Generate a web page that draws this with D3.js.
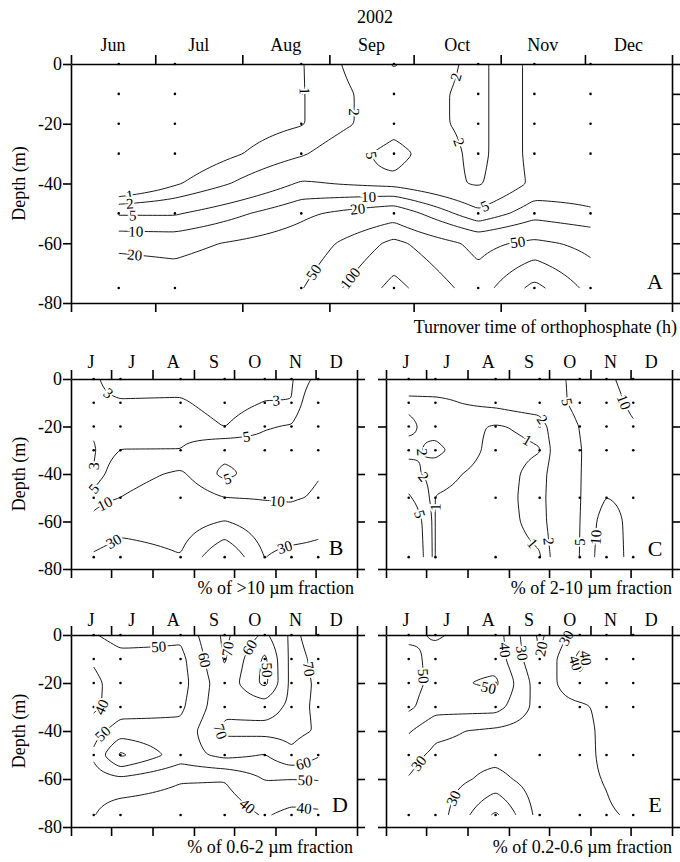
<!DOCTYPE html>
<html>
<head>
<meta charset="utf-8">
<script src="https://cdn.jsdelivr.net/npm/d3@7"></script>
<style>
  body { margin: 0; background: #fff; }
  svg { display: block; }
  text { font-family: "Liberation Serif", "Times New Roman", serif; fill: #000; }
</style>
</head>
<body>
<svg id="chart" width="680" height="862"></svg>
<script>
// sampling dates and depths shared by all panels
const stations = ["2002-06-18", "2002-07-08", "2002-08-22", "2002-09-24", "2002-10-24", "2002-11-13", "2002-12-03"];
const gridDepths = [0, -10, -20, -30, -40, -50, -60, -75];
const sampleDepths = [0, -10, -20, -30, -50, -75];
const monthNames = ["Jun", "Jul", "Aug", "Sep", "Oct", "Nov", "Dec"];
const monthLetters = ["J", "J", "A", "S", "O", "N", "D"];
const depthTicks = [0, -20, -40, -60, -80];
const depthTicks10 = [0, -10, -20, -30, -40, -50, -60, -70, -80];

// values per station, top to bottom (gridDepths)
// A: turnover time of orthophosphate (h)
const turnover = [
  [0.5, 0.5, 0.5, 0.6, 0.3, 4.6, 17, 35],
  [0.5, 0.5, 0.5, 0.5, 0.9, 4.6, 16, 30],
  [0.95, 0.95, 0.95, 1.8, 5.5, 17, 30, 48],
  [5.3, 3.5, 3.5, 7, 4, 35, 120, 250],
  [1.5, 1.5, 1.5, 1.5, 1.8, 6, 40, 70],
  [6.9, 6.9, 6.9, 6.9, 6, 15, 60, 250],
  [7, 7, 7, 7, 7, 11, 40, 80]
];
// B: % of >10 um fraction
const frac10 = [
  [3.3, 3.4, 3.3, 2.8, 3.1, 6.2, 13, 33],
  [2, 3.2, 4, 5.05, 7.5, 10.05, 22, 40],
  [2, 3.3, 4.3, 5.05, 11, 14, 20, 31],
  [1.5, 2, 2.95, 7, 3.5, 10.05, 31, 70],
  [2, 3.1, 4.8, 6, 8, 9, 18, 29.5],
  [2.8, 3.05, 5.2, 6, 7, 9, 14, 38],
  [5.8, 8, 8.5, 9, 9.6, 11, 22, 38]
];
// C: % of 2-10 um fraction
const frac2to10 = [
  [2.5, 1.8, 2.2, 1.7, 2.5, 5.5, 9, 10],
  [2.6, 1.8, 1.6, 2.3, 1.4, 0.95, 0.9, 0.9],
  [2.2, 2.3, 0.9, 0.6, 0.5, 0.5, 0.5, 0.5],
  [3.5, 2.8, 1.3, 0.95, 1.4, 1.5, 1.4, 0.9],
  [5.8, 6.0, 5.1, 4.8, 4.8, 4.8, 4.9, 5.05],
  [9, 8, 7.5, 7.5, 8.5, 10.05, 13, 14],
  [12, 11, 9.5, 8.5, 8.5, 8.5, 8, 7.8]
];
// D: % of 0.6-2 um fraction
const frac06to2 = [
  [49, 41, 38, 38, 46, 52, 45, 40.5],
  [55, 46, 44, 45, 55, 72, 48, 33],
  [52, 47, 46, 48, 53, 55, 41, 33],
  [72, 71, 67, 68, 72, 63, 40.5, 34],
  [58, 48, 47, 66, 73, 59.5, 50.5, 41],
  [72, 73, 73, 72, 73, 68, 50.2, 37],
  [66, 68, 69, 69, 69, 61, 50.5, 38]
];
// E: % of 0.2-0.6 um fraction
const frac02to06 = [
  [48, 53, 54, 52, 41, 33, 29.5, 28],
  [51, 47, 47, 44, 32, 28, 25, 24],
  [45, 46, 52, 44, 28, 27, 33, 52],
  [18, 20.2, 24, 26, 25, 24, 25, 26],
  [35, 43, 38, 28, 26, 27, 28, 28],
  [38, 30.5, 32, 33, 33, 32, 30.5, 29],
  [36, 35, 35, 35, 35, 35, 35, 31]
];

const levelsA = [1, 2, 5, 10, 20, 50, 100, 200];
const levelsB = [3, 5, 10, 30, 50];
const levelsC = [1, 2, 5, 10];
const levelsD = [40, 50, 60, 70];
const levelsE = [20, 30, 40, 50];

// contour labels: [date, depth, level] – snapped onto the nearest line of that level
const labelsA = [
  ["2002-08-23", -9, 1], ["2002-09-04", -16, 2], ["2002-10-11", -3, 2], ["2002-10-21", -25, 2],
  ["2002-09-12", -32, 5], ["2002-09-15", -44, 10], ["2002-09-11", -46.5, 20], ["2002-10-27", -49, 5],
  ["2002-11-07", -59, 50], ["2002-08-26", -69.5, 50], ["2002-09-05", -69, 100],
  ["2002-06-22", -44.8, 1], ["2002-06-22", -47.7, 2], ["2002-06-23", -51, 5], ["2002-06-24", -55.5, 10], ["2002-06-24", -62.2, 20]
];
const labelsB = [
  ["2002-06-30", -5.3, 3], ["2002-11-02", -9.1, 3], ["2002-10-11", -27, 5], ["2002-09-28", -46, 5],
  ["2002-06-24", -44, 3], ["2002-06-20", -48, 5], ["2002-06-27", -53, 10], ["2002-11-02", -53, 10],
  ["2002-07-02", -67.8, 30], ["2002-11-08", -70.6, 30]
];
const labelsC = [
  ["2002-09-22", -18.5, 2], ["2002-09-16", -24.3, 1], ["2002-06-30", -30.6, 2], ["2002-06-25", -43, 2],
  ["2002-07-04", -53.8, 1], ["2002-06-21", -58, 5], ["2002-09-20", -68.5, 1], ["2002-09-30", -68.5, 2],
  ["2002-10-23", -68.5, 5], ["2002-11-06", -66.4, 10], ["2002-10-14", -9.5, 5], ["2002-11-25", -10, 10]
];
const labelsD = [
  ["2002-08-06", -6.3, 50], ["2002-09-05", -11, 60], ["2002-10-04", -6.3, 70], ["2002-10-13", -5.4, 60],
  ["2002-10-29", -14.6, 50], ["2002-11-29", -13.9, 70], ["2002-06-25", -30, 40], ["2002-06-25", -41, 50],
  ["2002-09-20", -40.4, 70], ["2002-11-23", -55.6, 60], ["2002-11-23", -61.9, 50], ["2002-11-23", -67.5, 40],
  ["2002-10-15", -68.9, 40]
];
const labelsE = [
  ["2002-07-08", -16.7, 50], ["2002-08-27", -6.3, 40], ["2002-09-08", -7.5, 30], ["2002-09-29", -6.3, 20],
  ["2002-10-16", -12.5, 40], ["2002-11-02", -7.5, 30], ["2002-11-07", -7.5, 40], ["2002-08-15", -25.8, 50],
  ["2002-06-25", -53.4, 30], ["2002-07-26", -69, 30]
];

const panels = [
  { letter: "A", values: turnover, levels: levelsA, labels: labelsA, log: true, x0: 71, x1: 672, y0: 64, y1: 303,
    months: monthNames, monthY: 51, rightTicks: depthTicks10, yLabels: true,
    caption: "Turnover time of orthophosphate (h)", capX: 677, capY: 333, letterX: 655, letterY: 289 },
  { letter: "B", values: frac10, levels: levelsB, labels: labelsB, x0: 71, x1: 357, y0: 379, y1: 569,
    months: monthLetters, monthY: 368, rightTicks: depthTicks, yLabels: true,
    caption: "% of >10 \u00b5m fraction", capX: 354, capY: 594, letterX: 336, letterY: 555 },
  { letter: "C", values: frac2to10, levels: levelsC, labels: labelsC, x0: 386, x1: 672, y0: 379, y1: 569,
    months: monthLetters, monthY: 368, rightTicks: depthTicks, yLabels: false,
    caption: "% of 2-10 \u00b5m fraction", capX: 672, capY: 594, letterX: 655, letterY: 556 },
  { letter: "D", values: frac06to2, levels: levelsD, labels: labelsD, x0: 71, x1: 357, y0: 635, y1: 827,
    months: monthLetters, monthY: 626, rightTicks: depthTicks, yLabels: true,
    caption: "% of 0.6-2 \u00b5m fraction", capX: 353, capY: 853, letterX: 340, letterY: 812 },
  { letter: "E", values: frac02to06, levels: levelsE, labels: labelsE, x0: 386, x1: 672, y0: 635, y1: 827,
    months: monthLetters, monthY: 626, rightTicks: depthTicks, yLabels: false,
    caption: "% of 0.2-0.6 \u00b5m fraction", capX: 672, capY: 853, letterX: 655, letterY: 812 }
];

const svg = d3.select("#chart");
svg.append("rect").attr("width", 680).attr("height", 862).attr("fill", "#fff");

const parse = d3.utcParse("%Y-%m-%d");
const tStart = parse("2002-06-01"), tEnd = parse("2003-01-01");
const monthStarts = d3.utcMonth.range(tStart, d3.utcDay.offset(tEnd, 1));
const stationDates = stations.map(parse);

svg.append("text").attr("x", 375).attr("y", 23).attr("text-anchor", "middle")
  .attr("font-size", 18).text("2002");

// marching squares: isolines of level t as open or closed polylines (grid coordinates)
function isolines(vals, nx, ny, t) {
  const pos = new Map(), adj = new Map();
  const V = (i, j) => vals[j * nx + i];
  const pt = (key, px, py) => { if (!pos.has(key)) pos.set(key, [px, py]); return key; };
  const hEdge = (i, j) => { const a = V(i, j), b = V(i + 1, j); return pt(`h${i},${j}`, i + (t - a) / (b - a), j); };
  const vEdge = (i, j) => { const a = V(i, j), b = V(i, j + 1); return pt(`v${i},${j}`, i, j + (t - a) / (b - a)); };
  const link = (a, b) => {
    if (!adj.has(a)) adj.set(a, []);
    if (!adj.has(b)) adj.set(b, []);
    adj.get(a).push(b); adj.get(b).push(a);
  };
  for (let j = 0; j < ny - 1; j++) for (let i = 0; i < nx - 1; i++) {
    const a0 = V(i, j) >= t, a1 = V(i + 1, j) >= t, a2 = V(i + 1, j + 1) >= t, a3 = V(i, j + 1) >= t;
    const c = a0 | a1 << 1 | a2 << 2 | a3 << 3;
    if (c === 0 || c === 15) continue;
    const T = () => hEdge(i, j), R = () => vEdge(i + 1, j), B = () => hEdge(i, j + 1), L = () => vEdge(i, j);
    if (c === 5 || c === 10) {
      const mid = (V(i, j) + V(i + 1, j) + V(i + 1, j + 1) + V(i, j + 1)) / 4 >= t;
      if ((c === 5) === mid) { link(T(), R()); link(L(), B()); }
      else { link(L(), T()); link(R(), B()); }
      continue;
    }
    const e = [];
    if (a0 !== a1) e.push(T());
    if (a1 !== a2) e.push(R());
    if (a3 !== a2) e.push(B());
    if (a0 !== a3) e.push(L());
    link(e[0], e[1]);
  }
  const seen = new Set(), lines = [];
  const walk = start => {
    const out = [start];
    seen.add(start);
    let prev = null, cur = start;
    for (;;) {
      const nb = adj.get(cur).filter(k => k !== prev && !seen.has(k));
      if (!nb.length) break;
      prev = cur; cur = nb[0]; seen.add(cur); out.push(cur);
    }
    return out;
  };
  adj.forEach((nb, k) => { if (nb.length === 1 && !seen.has(k)) lines.push({ keys: walk(k), closed: false }); });
  adj.forEach((nb, k) => { if (!seen.has(k)) lines.push({ keys: walk(k), closed: true }); });
  return lines.map(l => ({ pts: l.keys.map(k => pos.get(k)), closed: l.closed }));
}

function drawPanel(p) {
  const x = d3.scaleUtc().domain([tStart, tEnd]).range([p.x0, p.x1]);
  const y = d3.scaleLinear().domain([0, -80]).range([p.y0, p.y1]);
  const g = svg.append("g");
  const f = p.log ? Math.log10 : v => v;

  // fine grid over the sampled area (first to last station, 0 to -75 m)
  const tx = stationDates.map(d => x(d));
  const gTop = y(gridDepths[0]), gBot = y(gridDepths[gridDepths.length - 1]);
  const gLeft = tx[0], gRight = tx[tx.length - 1];
  const nx = Math.round(gRight - gLeft) + 1, ny = Math.round(gBot - gTop) + 1;
  const dx = (gRight - gLeft) / (nx - 1), dy = (gBot - gTop) / (ny - 1);
  const cols = p.values.map(c => c.map(v => f(v)));
  const vals = new Float64Array(nx * ny);
  for (let j = 0; j < ny; j++) {
    const depth = y.invert(gTop + j * dy);
    let r = 0;
    while (r < gridDepths.length - 2 && depth < gridDepths[r + 1]) r++;
    const fy = (gridDepths[r] - depth) / (gridDepths[r] - gridDepths[r + 1]);
    for (let i = 0; i < nx; i++) {
      const px = gLeft + i * dx;
      let k = 0;
      while (k < tx.length - 2 && px > tx[k + 1]) k++;
      const fx = (px - tx[k]) / (tx[k + 1] - tx[k]);
      const a = cols[k][r], b = cols[k + 1][r], c = cols[k][r + 1], d = cols[k + 1][r + 1];
      vals[j * nx + i] = (a * (1 - fx) + b * fx) * (1 - fy) + (c * (1 - fx) + d * fx) * fy;
    }
  }

  const linesByLevel = new Map();
  p.levels.forEach(level => {
    const lines = isolines(vals, nx, ny, f(level));
    lines.forEach(l => { l.pts = l.pts.map(([gx, gy]) => [gLeft + gx * dx, gTop + gy * dy]); });
    linesByLevel.set(level, lines);
  });

  // thin the dense polylines and round the corners with a B-spline
  const openLine = d3.line().curve(d3.curveBasis);
  const closedLine = d3.line().curve(d3.curveBasisClosed);
  const thin = pts => pts.filter((q, i) => i % 5 === 0 || i === pts.length - 1);
  const cg = g.append("g").attr("fill", "none").attr("stroke", "#000").attr("stroke-width", 0.9);
  linesByLevel.forEach(lines => lines.forEach(l => {
    if (l.pts.length < 2) return;
    if (l.closed) {
      const q = l.pts.filter((r, i) => i % 5 === 0);
      cg.append("path").attr("d", q.length > 2 ? closedLine(q) : closedLine(l.pts));
    } else {
      cg.append("path").attr("d", openLine(thin(l.pts)));
    }
  }));

  // sampling points
  g.append("g").selectAll("circle")
    .data(d3.cross(stationDates, sampleDepths))
    .join("circle")
    .attr("cx", d => x(d[0])).attr("cy", d => y(d[1])).attr("r", 1.3).attr("fill", "#000");

  // contour labels, snapped to the nearest point of their level
  const lg = g.append("g");
  p.labels.forEach(([date, depth, level]) => {
    const px = x(parse(date)), py = y(depth);
    let best = null, bd = Infinity;
    (linesByLevel.get(level) || []).forEach(l => l.pts.forEach((pt, i) => {
      const dd = (pt[0] - px) ** 2 + (pt[1] - py) ** 2;
      if (dd < bd) { bd = dd; best = { l, i }; }
    }));
    if (!best || bd > 30 * 30) return;
    const pts = best.l.pts, n = pts.length;
    const a = best.l.closed ? pts[(best.i - 4 + n) % n] : pts[Math.max(0, best.i - 4)];
    const b = best.l.closed ? pts[(best.i + 4) % n] : pts[Math.min(n - 1, best.i + 4)];
    let ang = Math.atan2(b[1] - a[1], b[0] - a[0]) * 180 / Math.PI;
    if (ang > 90) ang -= 180;
    if (ang < -90) ang += 180;
    const c = pts[best.i];
    lg.append("text")
      .attr("transform", `translate(${c[0]},${c[1]}) rotate(${ang})`)
      .attr("text-anchor", "middle").attr("dy", "0.35em")
      .attr("font-size", 15)
      .attr("stroke", "#fff").attr("stroke-width", 4).attr("paint-order", "stroke")
      .text(level);
  });

  // axes
  const styleAxis = sel => {
    sel.selectAll("path, line").attr("stroke", "#000").attr("stroke-width", 1.6);
    sel.attr("font-family", null).attr("font-size", null);
    sel.selectAll("text").attr("font-size", 18);
  };
  g.append("g").attr("transform", `translate(0,${p.y0})`)
    .call(d3.axisTop(x).tickValues(monthStarts).tickSize(9).tickSizeOuter(0).tickFormat(""))
    .call(styleAxis);
  g.append("g").attr("transform", `translate(0,${p.y1})`)
    .call(d3.axisBottom(x).tickValues(monthStarts).tickSize(9).tickSizeOuter(0).tickFormat(""))
    .call(styleAxis);
  g.append("g").attr("transform", `translate(${p.x0},0)`)
    .call(d3.axisLeft(y).tickValues(depthTicks).tickSize(8).tickSizeOuter(0).tickPadding(1)
      .tickFormat(d => p.yLabels ? String(d) : ""))
    .call(styleAxis);
  g.append("g").attr("transform", `translate(${p.x1},0)`)
    .call(d3.axisRight(y).tickValues(p.rightTicks).tickSize(8).tickSizeOuter(0).tickFormat(""))
    .call(styleAxis);

  // month names centred in each month
  g.append("g").selectAll("text")
    .data(p.months)
    .join("text")
    .attr("x", (m, i) => (x(monthStarts[i]) + x(monthStarts[i + 1])) / 2)
    .attr("y", p.monthY)
    .attr("text-anchor", "middle").attr("font-size", 18)
    .text(m => m);

  if (p.yLabels) {
    g.append("text")
      .attr("transform", `translate(25,${(p.y0 + p.y1) / 2}) rotate(-90)`)
      .attr("text-anchor", "middle").attr("font-size", 18).text("Depth (m)");
  }
  g.append("text").attr("x", p.capX).attr("y", p.capY).attr("text-anchor", "end")
    .attr("font-size", 18).text(p.caption);
  g.append("text").attr("x", p.letterX).attr("y", p.letterY).attr("text-anchor", "middle")
    .attr("font-size", 22).text(p.letter);
}

panels.forEach(drawPanel);
</script>
</body>
</html>
